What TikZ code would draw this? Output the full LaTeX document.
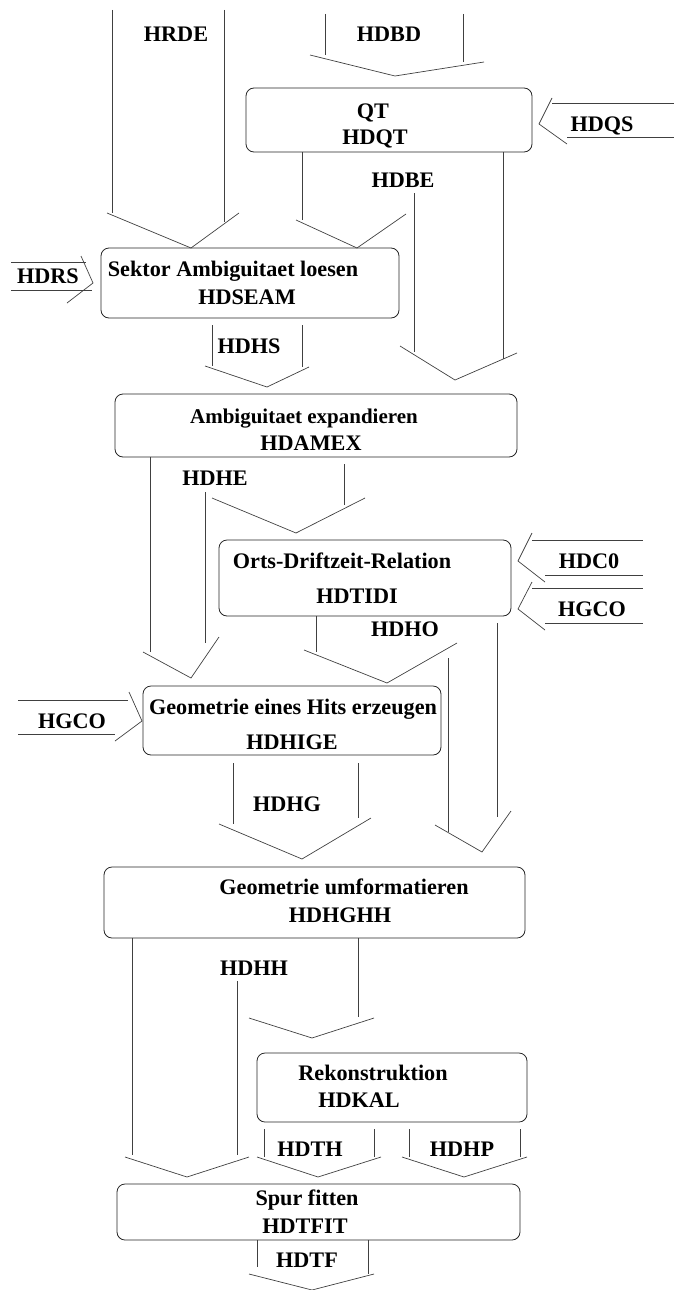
\documentclass[tikz,border=0pt]{standalone}
\usepackage{fontspec}
\setmainfont{Liberation Serif}
\begin{document}
\begin{tikzpicture}[x=1pt,y=-1pt,
  box/.style={draw=black!85, line width=0.8pt, rounded corners=8pt, inner sep=0pt},
  lbl/.style={font=\fontsize{22.2}{26}\selectfont\bfseries, anchor=base, inner sep=0pt},
  lbls/.style={lbl, font=\fontsize{21}{25}\selectfont\bfseries},
  ln/.style={draw=black!75, line width=0.7pt}]
\useasboundingbox (0,0) rectangle (674,1290);
% boxes
\node[box, minimum width=286pt, minimum height=64pt] (qt) at (389,120) {};
\node[box, minimum width=298pt, minimum height=70pt] (seam) at (250,283) {};
\node[box, minimum width=402pt, minimum height=63pt] (amex) at (316,425.5) {};
\node[box, minimum width=292pt, minimum height=76pt] (tidi) at (365,578) {};
\node[box, minimum width=298pt, minimum height=69pt] (hige) at (292,720.5) {};
\node[box, minimum width=421pt, minimum height=71pt] (hghh) at (314.5,902.5) {};
\node[box, minimum width=270pt, minimum height=69pt] (kal) at (392,1087.5) {};
\node[box, minimum width=403pt, minimum height=56pt] (tfit) at (318.5,1212) {};
% box texts
\node[lbl] (tqt1) at (373,118) {QT};
\node[lbl] (tqt2) at (375,144) {HDQT};
\node[lbl] (tseam1) at (233,276) {Sektor Ambiguitaet loesen};
\node[lbl] (tseam2) at (247,304) {HDSEAM};
\node[lbls] (tamex1) at (304,423) {Ambiguitaet expandieren};
\node[lbl] (tamex2) at (311,450) {HDAMEX};
\node[lbl] (ttidi1) at (342,568) {Orts-Driftzeit-Relation};
\node[lbl] (ttidi2) at (357,603) {HDTIDI};
\node[lbl] (thige1) at (293,714) {Geometrie eines Hits erzeugen};
\node[lbl] (thige2) at (292,749) {HDHIGE};
\node[lbl] (thghh1) at (344,894) {Geometrie umformatieren};
\node[lbl] (thghh2) at (340,922) {HDHGHH};
\node[lbl] (tkal1) at (373,1080) {Rekonstruktion};
\node[lbl] (tkal2) at (359,1107) {HDKAL};
\node[lbl] (ttfit1) at (307,1205) {Spur fitten};
\node[lbl] (ttfit2) at (305,1233) {HDTFIT};
% flow labels
\node[lbl] (lhrde) at (176,42) {HRDE};
\node[lbl] (lhdbd) at (389,42) {HDBD};
\node[lbl] (lhdqs) at (602,131) {HDQS};
\node[lbl] (lhdbe) at (403,187) {HDBE};
\node[lbl] (lhdrs) at (48,283) {HDRS};
\node[lbl] (lhdhs) at (249,353) {HDHS};
\node[lbl] (lhdhe) at (215,485) {HDHE};
\node[lbl] (lhdc0) at (589,568) {HDC0};
\node[lbl] (lhgcor) at (592,616) {HGCO};
\node[lbl] (lhdho) at (405,636) {HDHO};
\node[lbl] (lhgcol) at (72,728) {HGCO};
\node[lbl] (lhdhg) at (287,811) {HDHG};
\node[lbl] (lhdhh) at (254,975) {HDHH};
\node[lbl] (lhdth) at (310,1156) {HDTH};
\node[lbl] (lhdhp) at (462,1156) {HDHP};
\node[lbl] (lhdtf) at (307,1267) {HDTF};
% HRDE
\draw[ln] (112,10)--(112,213); \draw[ln] (224,10)--(224,222);
\draw[ln] (107,213)--(191,248)--(239,213);
% HDBD
\draw[ln] (325,14)--(325,55); \draw[ln] (463,14)--(463,62);
\draw[ln] (310,55)--(395,76)--(484,62);
% HDQS
\draw[ln] (552,103)--(674,103); \draw[ln] (567,137)--(674,137);
\draw[ln] (552,98)--(539,124)--(567,144);
% QT -> SEAM
\draw[ln] (302,152)--(302,220);
\draw[ln] (296,220)--(357,248)--(406,214);
% HDBE
\draw[ln] (414,193)--(414,352); \draw[ln] (503,152)--(503,359);
\draw[ln] (400,346)--(455,380)--(517,353);
% HDRS
\draw[ln] (11,262)--(86,262); \draw[ln] (11,290)--(92,290);
\draw[ln] (81,256)--(93,283)--(67,303);
% HDHS
\draw[ln] (212,325)--(212,366); \draw[ln] (302,325)--(302,367);
\draw[ln] (205,366)--(267,387)--(309,367);
% AMEX -> HIGE
\draw[ln] (150,457)--(150,652); \draw[ln] (205,492)--(205,643);
\draw[ln] (143,652)--(191,678)--(219,637);
% AMEX -> TIDI
\draw[ln] (344,464)--(344,505);
\draw[ln] (212,498)--(296,533)--(365,498);
% HDC0
\draw[ln] (532,540)--(643,540); \draw[ln] (545,575)--(643,575);
\draw[ln] (532,533)--(518,561)--(545,582);
% HGCO right
\draw[ln] (532,588)--(643,588); \draw[ln] (545,623)--(643,623);
\draw[ln] (532,582)--(518,609)--(545,630);
% TIDI -> HIGE
\draw[ln] (316,616)--(316,652);
\draw[ln] (304,650)--(387,683)--(457,643);
% HDHO
\draw[ln] (448,658)--(448,832); \draw[ln] (497,623)--(497,817);
\draw[ln] (435,825)--(482,852)--(511,811);
% HGCO left
\draw[ln] (18,700)--(128,700); \draw[ln] (18,734)--(115,734);
\draw[ln] (129,692)--(142,721)--(115,741);
% HDHG
\draw[ln] (233,763)--(233,824); \draw[ln] (358,763)--(358,818);
\draw[ln] (219,824)--(302,859)--(371,818);
% HGHH -> TFIT
\draw[ln] (132,938)--(132,1155); \draw[ln] (237,981)--(237,1155);
\draw[ln] (125,1157)--(187,1177)--(249,1157);
% HGHH -> KAL
\draw[ln] (358,938)--(358,1017);
\draw[ln] (249,1018)--(312,1038)--(374,1018);
% HDTH
\draw[ln] (264,1129)--(264,1157); \draw[ln] (374,1129)--(374,1157);
\draw[ln] (257,1157)--(318,1177)--(381,1157);
% HDHP
\draw[ln] (409,1129)--(409,1157); \draw[ln] (520,1129)--(520,1157);
\draw[ln] (402,1157)--(464,1177)--(527,1157);
% HDTF
\draw[ln] (257,1240)--(257,1267); \draw[ln] (368,1240)--(368,1274);
\draw[ln] (249,1274)--(312,1290)--(374,1274);
\end{tikzpicture}
\end{document}
